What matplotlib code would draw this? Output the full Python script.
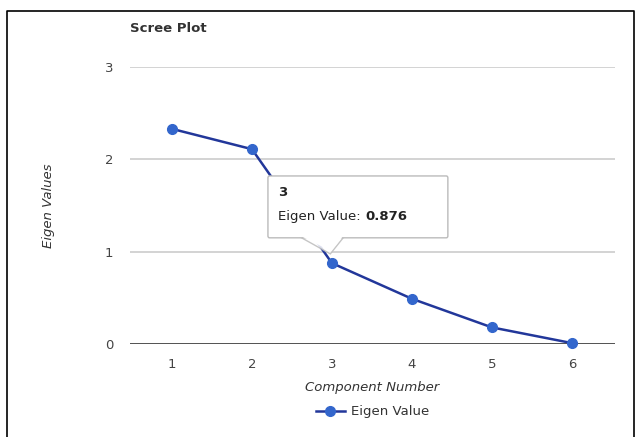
import matplotlib.pyplot as plt
from matplotlib.lines import Line2D
from matplotlib.patches import Polygon, FancyBboxPatch

# Scree plot data
components = [1, 2, 3, 4, 5, 6]
eigen_values = [2.33, 2.11, 0.876, 0.49, 0.18, 0.01]
y_ticks = [0, 1, 2, 3]
hover_idx = 2

fig = plt.figure(figsize=(6.41, 4.37), dpi=100)
W, H = 641.0, 437.0
ax = fig.add_axes([130 / W, 1 - 344 / H, (615 - 130) / W, (344 - 67) / H])

line_col = '#22379a'
mark_col = '#3366cc'

for v in y_ticks[1:]:
    ax.axhline(v, color='#cccccc', lw=1.2, zorder=0)
ax.axhline(0, color='#444444', lw=1.3, zorder=1)

ln, = ax.plot(components, eigen_values, color=line_col, lw=1.8, marker='o', ms=7,
              mfc=mark_col, mec=mark_col, clip_on=False, zorder=3)

ax.set_xlim(0.475, 6.54)
ax.set_ylim(0, 3)
ax.set_xticks(components)
ax.set_yticks(y_ticks)
for s in ax.spines.values():
    s.set_visible(False)
ax.tick_params(length=0, labelsize=9.5, colors='#444444')
ax.tick_params(axis='x', pad=10)
ax.tick_params(axis='y', pad=12)
ax.set_xlabel('Component Number', style='italic', fontsize=9.5, color='#333333', labelpad=7)
ax.set_ylabel('Eigen Values', style='italic', fontsize=9.5, color='#333333', labelpad=36)

fig.text(130 / W, 1 - 28 / H, 'Scree Plot', fontsize=9.5, fontweight='bold',
         color='#333333', va='center', ha='left')

# legend
leg = ax.legend([ln], ['Eigen Value'], loc='center', bbox_to_anchor=(0.5, -0.245),
                frameon=False, fontsize=9.5, handlelength=2.2, handletextpad=0.5)
for t in leg.get_texts():
    t.set_color('#333333')

# tooltip
x0, x1 = 2.2, 4.45
y0, y1 = 1.15, 1.82
px, py = components[hover_idx], eigen_values[hover_idx]
ax.add_patch(Polygon([[2.6, y0 + 0.01], [px - 0.02, py + 0.1], [3.15, y0 + 0.01]],
                     closed=True, fc='white', ec='#bbbbbb', lw=1, zorder=5, alpha=0.85))
ax.add_patch(FancyBboxPatch((x0, y0), x1 - x0, y1 - y0,
                            boxstyle='round,pad=0,rounding_size=0.02',
                            fc='white', ec='#bbbbbb', lw=1, zorder=6))
ax.add_patch(Polygon([[2.61, y0 + 0.02], [px - 0.01, py + 0.13], [3.14, y0 + 0.02]],
                     closed=True, fc='white', ec='none', zorder=7))
ax.text(x0 + 0.13, 1.64, str(components[hover_idx]), fontsize=9.5, fontweight='bold',
        color='#222222', va='center', zorder=8)
t1 = ax.text(x0 + 0.13, 1.38, 'Eigen Value: ', fontsize=9.5, color='#222222',
             va='center', zorder=8)
ax.annotate('%.3f' % eigen_values[hover_idx], xy=(1, 0.5), xycoords=t1, va='center',
            fontsize=9.5, fontweight='bold', color='#222222', zorder=8)

# outer border
fig.add_artist(Line2D([7 / W, 7 / W, 634 / W, 634 / W], [0, 1 - 11 / H, 1 - 11 / H, 0],
                      color='black', lw=1.2, transform=fig.transFigure))

fig.savefig('out.png', dpi=100)
